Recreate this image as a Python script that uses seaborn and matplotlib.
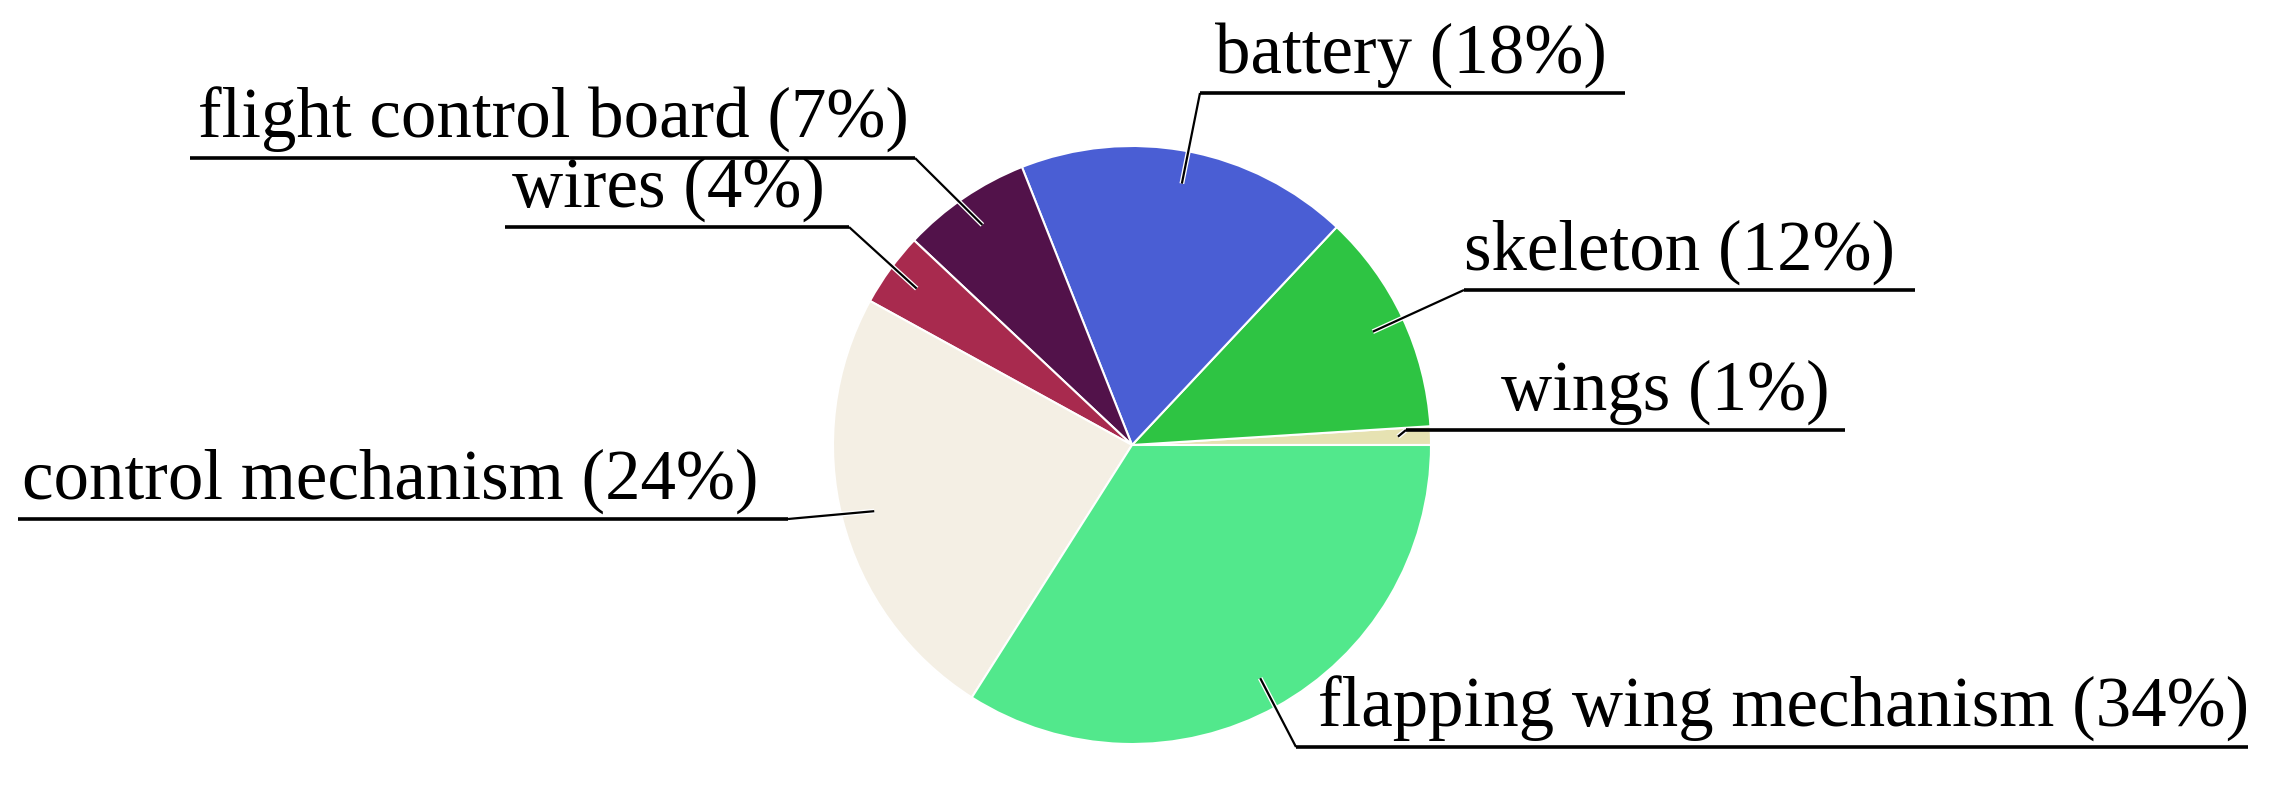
import numpy as np
import matplotlib.pyplot as plt
import matplotlib.patheffects as pe
import seaborn as sns

sns.set_theme(style="white")
plt.rcParams['font.family'] = ['Liberation Serif', 'DejaVu Serif']

# --- dados (sentido anti-horário a partir das 3 horas) ---
componentes = ["wings", "skeleton", "battery", "flight control board",
               "wires", "control mechanism", "flapping wing mechanism"]
percentuais = [1, 12, 18, 7, 4, 24, 34]
cores = ["#E6E2B2", "#2EC443", "#4A5ED4", "#52124A",
         "#A82A4E", "#F4EFE4", "#52E88C"]

# --- layout dos rótulos em pixels: (y da linha, x inicio, x fim, lado do pie) ---
layout = {
    "wings": (430, 1406, 1845, "left"),
    "skeleton": (290, 1464, 1915, "left"),
    "battery": (93, 1200, 1625, "left"),
    "flight control board": (158, 190, 915, "right"),
    "wires": (227, 505, 849, "right"),
    "control mechanism": (519, 18, 788, "right"),
    "flapping wing mechanism": (747, 1296, 2248, "left"),
}
texto_x = {
    "wings": 1501, "skeleton": 1464, "battery": 1215,
    "flight control board": 198, "wires": 512,
    "control mechanism": 22, "flapping wing mechanism": 1318,
}

W, H = 2296, 810
centro = (1132, 445)
raio = 299

fig = plt.figure(figsize=(W / 100, H / 100), dpi=100)
ax = fig.add_axes([0, 0, 1, 1])

fatias, _ = ax.pie(percentuais, colors=cores, startangle=0, counterclock=False,
                   center=centro, radius=raio,
                   wedgeprops=dict(edgecolor="white", linewidth=1.5))
ax.set_xlim(0, W)
ax.set_ylim(H, 0)
ax.set_aspect("equal")
ax.axis("off")

for fatia, nome, pct in zip(fatias, componentes, percentuais):
    y_linha, x0, x1, lado = layout[nome]
    ang = np.deg2rad((fatia.theta1 + fatia.theta2) / 2)
    px = centro[0] + 0.89 * raio * np.cos(ang)
    py = centro[1] + 0.89 * raio * np.sin(ang)
    x_ponta = x0 if lado == "left" else x1
    ax.plot([px, x_ponta], [py, y_linha], color="black", lw=1.6,
            solid_capstyle="butt",
            path_effects=[pe.withStroke(linewidth=3.5, foreground="white")])
    ax.plot([x0, x1], [y_linha, y_linha], color="black", lw=2.6,
            solid_capstyle="butt")
    ax.text(texto_x[nome], y_linha - 20, f"{nome} ({pct}%)", fontsize=51,
            ha="left", va="baseline", color="black")

fig.savefig("out.png", dpi=100, facecolor="white")
